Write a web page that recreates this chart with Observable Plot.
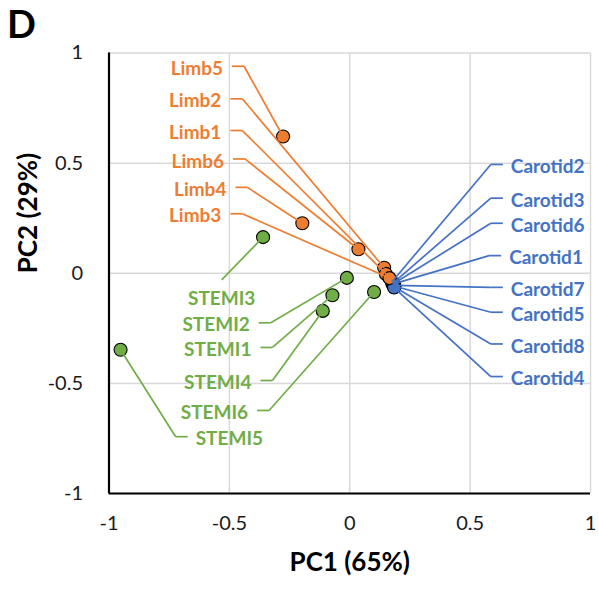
<!DOCTYPE html>
<html><head><meta charset="utf-8">
<script src="https://cdn.jsdelivr.net/npm/d3@7"></script>
<script src="https://cdn.jsdelivr.net/npm/@observablehq/plot@0.6"></script>
<style>
body{margin:0;background:#fff;}
#wrap{position:relative;width:599px;height:593px;}
#panel{position:absolute;left:7px;top:0px;font:bold 38px Lato, sans-serif;color:#000;}
</style>
</head><body><div id="wrap"><div id="panel">D</div></div>
<script>
// Tick values
const xTicks = [-1, -0.5, 0, 0.5, 1];
const yTicks = [-1, -0.5, 0, 0.5, 1];

// Carotid series (PC1, PC2) and label anchor (elbow) positions
const carotidNames = ["Carotid2","Carotid3","Carotid6","Carotid1","Carotid7","Carotid5","Carotid8","Carotid4"];
const carotidPC1 = [0.175, 0.180, 0.178, 0.182, 0.185, 0.183, 0.186, 0.184];
const carotidPC2 = [-0.040, -0.045, -0.050, -0.048, -0.055, -0.058, -0.062, -0.065];
const carotidLabelX = [0.586, 0.586, 0.586, 0.579, 0.586, 0.586, 0.586, 0.586];
const carotidLabelY = [0.494, 0.341, 0.227, 0.080, -0.064, -0.177, -0.321, -0.469];

// Limb series
const limbNames = ["Limb5","Limb2","Limb1","Limb6","Limb4","Limb3"];
const limbPC1 = [-0.277, 0.143, 0.150, 0.036, -0.197, 0.165];
const limbPC2 = [0.621, 0.025, -0.003, 0.109, 0.227, -0.022];
const limbLabelX = [-0.439, -0.446, -0.446, -0.435, -0.425, -0.446];
const limbLabelY = [0.940, 0.792, 0.648, 0.519, 0.390, 0.270];

// STEMI series
const stemiNames = ["STEMI3","STEMI2","STEMI1","STEMI4","STEMI6","STEMI5"];
const stemiPC1 = [-0.360, -0.012, -0.072, -0.112, 0.101, -0.952];
const stemiPC2 = [0.164, -0.021, -0.100, -0.171, -0.085, -0.347];
const stemiLabelX = [-0.532, -0.328, -0.321, -0.321, -0.335, -0.723];
const stemiLabelY = [-0.030, -0.225, -0.337, -0.487, -0.623, -0.742];
const stemiLabelSide = ["below","left","left","left","left","right"];

const colors = {Carotid: "#4472C4", Limb: "#ED7D31", STEMI: "#70AD47"};

const rows = [];
carotidNames.forEach((n,i)=>rows.push({name:n, group:"Carotid", x:carotidPC1[i], y:carotidPC2[i], lx:carotidLabelX[i], ly:carotidLabelY[i], side:"right"}));
limbNames.forEach((n,i)=>rows.push({name:n, group:"Limb", x:limbPC1[i], y:limbPC2[i], lx:limbLabelX[i], ly:limbLabelY[i], side:"left"}));
stemiNames.forEach((n,i)=>rows.push({name:n, group:"STEMI", x:stemiPC1[i], y:stemiPC2[i], lx:stemiLabelX[i], ly:stemiLabelY[i], side:stemiLabelSide[i]}));

const W = 599, H = 593;
const mL = 108.5, mR = 9, mT = 52.5, mB = 100;
const pxPerX = (W - mL - mR) / 2;
const seg = 12 / pxPerX; // horizontal leader stub length in data units

const stubs = rows.filter(d => d.side === "left" || d.side === "right")
  .map(d => ({...d, x2: d.side === "left" ? d.lx - seg : d.lx + seg}));

const font = "Lato, sans-serif";
const textLeft = rows.filter(d => d.side === "left");
const textRight = rows.filter(d => d.side === "right");
const textBelow = rows.filter(d => d.side === "below");

const chart = Plot.plot({
  width: W, height: H,
  marginLeft: mL, marginRight: mR, marginTop: mT, marginBottom: mB,
  style: {fontFamily: font, background: "#fff", overflow: "visible"},
  x: {domain: [-1, 1]},
  y: {domain: [-1, 1]},
  marks: [
    Plot.gridX(xTicks, {stroke: "#d9d9d9", strokeOpacity: 1, strokeWidth: 1.5}),
    Plot.gridY(yTicks, {stroke: "#d9d9d9", strokeOpacity: 1, strokeWidth: 1.5}),
    Plot.ruleX([-1], {stroke: "#000", strokeWidth: 2.2}),
    Plot.ruleY([-1], {stroke: "#000", strokeWidth: 2.2}),
    Plot.axisX(xTicks, {tickSize: 0, tickPadding: 22, tickFormat: d => String(d), fontSize: 20, fill: "#1a1a1a", label: null}),
    Plot.axisY(yTicks, {tickSize: 0, tickPadding: 26, tickFormat: d => String(d), fontSize: 20, fill: "#1a1a1a", label: null}),
    Plot.text(["PC1 (65%)"], {frameAnchor: "bottom", dy: 77, fontSize: 26, fontWeight: "bold", fill: "#000"}),
    Plot.text(["PC2 (29%)"], {frameAnchor: "left", dx: -80, rotate: -90, fontSize: 26, fontWeight: "bold", fill: "#000"}),
    Plot.dot(rows, {x: "x", y: "y", r: 6.5, fill: d => colors[d.group], stroke: "#000", strokeWidth: 1.1}),
    Plot.link(rows, {x1: "x", y1: "y", x2: "lx", y2: "ly", stroke: d => colors[d.group], strokeWidth: 1.7}),
    Plot.link(stubs, {x1: "lx", y1: "ly", x2: "x2", y2: "ly", stroke: d => colors[d.group], strokeWidth: 1.7}),
    Plot.text(textLeft, {x: "lx", y: "ly", text: "name", dx: -21, dy: 2.5, textAnchor: "end", fill: d => colors[d.group], fontSize: 19, fontWeight: "bold"}),
    Plot.text(textRight, {x: "lx", y: "ly", text: "name", dx: 20, dy: 2.5, textAnchor: "start", fill: d => colors[d.group], fontSize: 19, fontWeight: "bold"}),
    Plot.text(textBelow, {x: "lx", y: "ly", text: "name", dy: 19, textAnchor: "middle", fill: d => colors[d.group], fontSize: 19, fontWeight: "bold"})
  ]
});
document.getElementById("wrap").appendChild(chart);
</script>
</body></html>
